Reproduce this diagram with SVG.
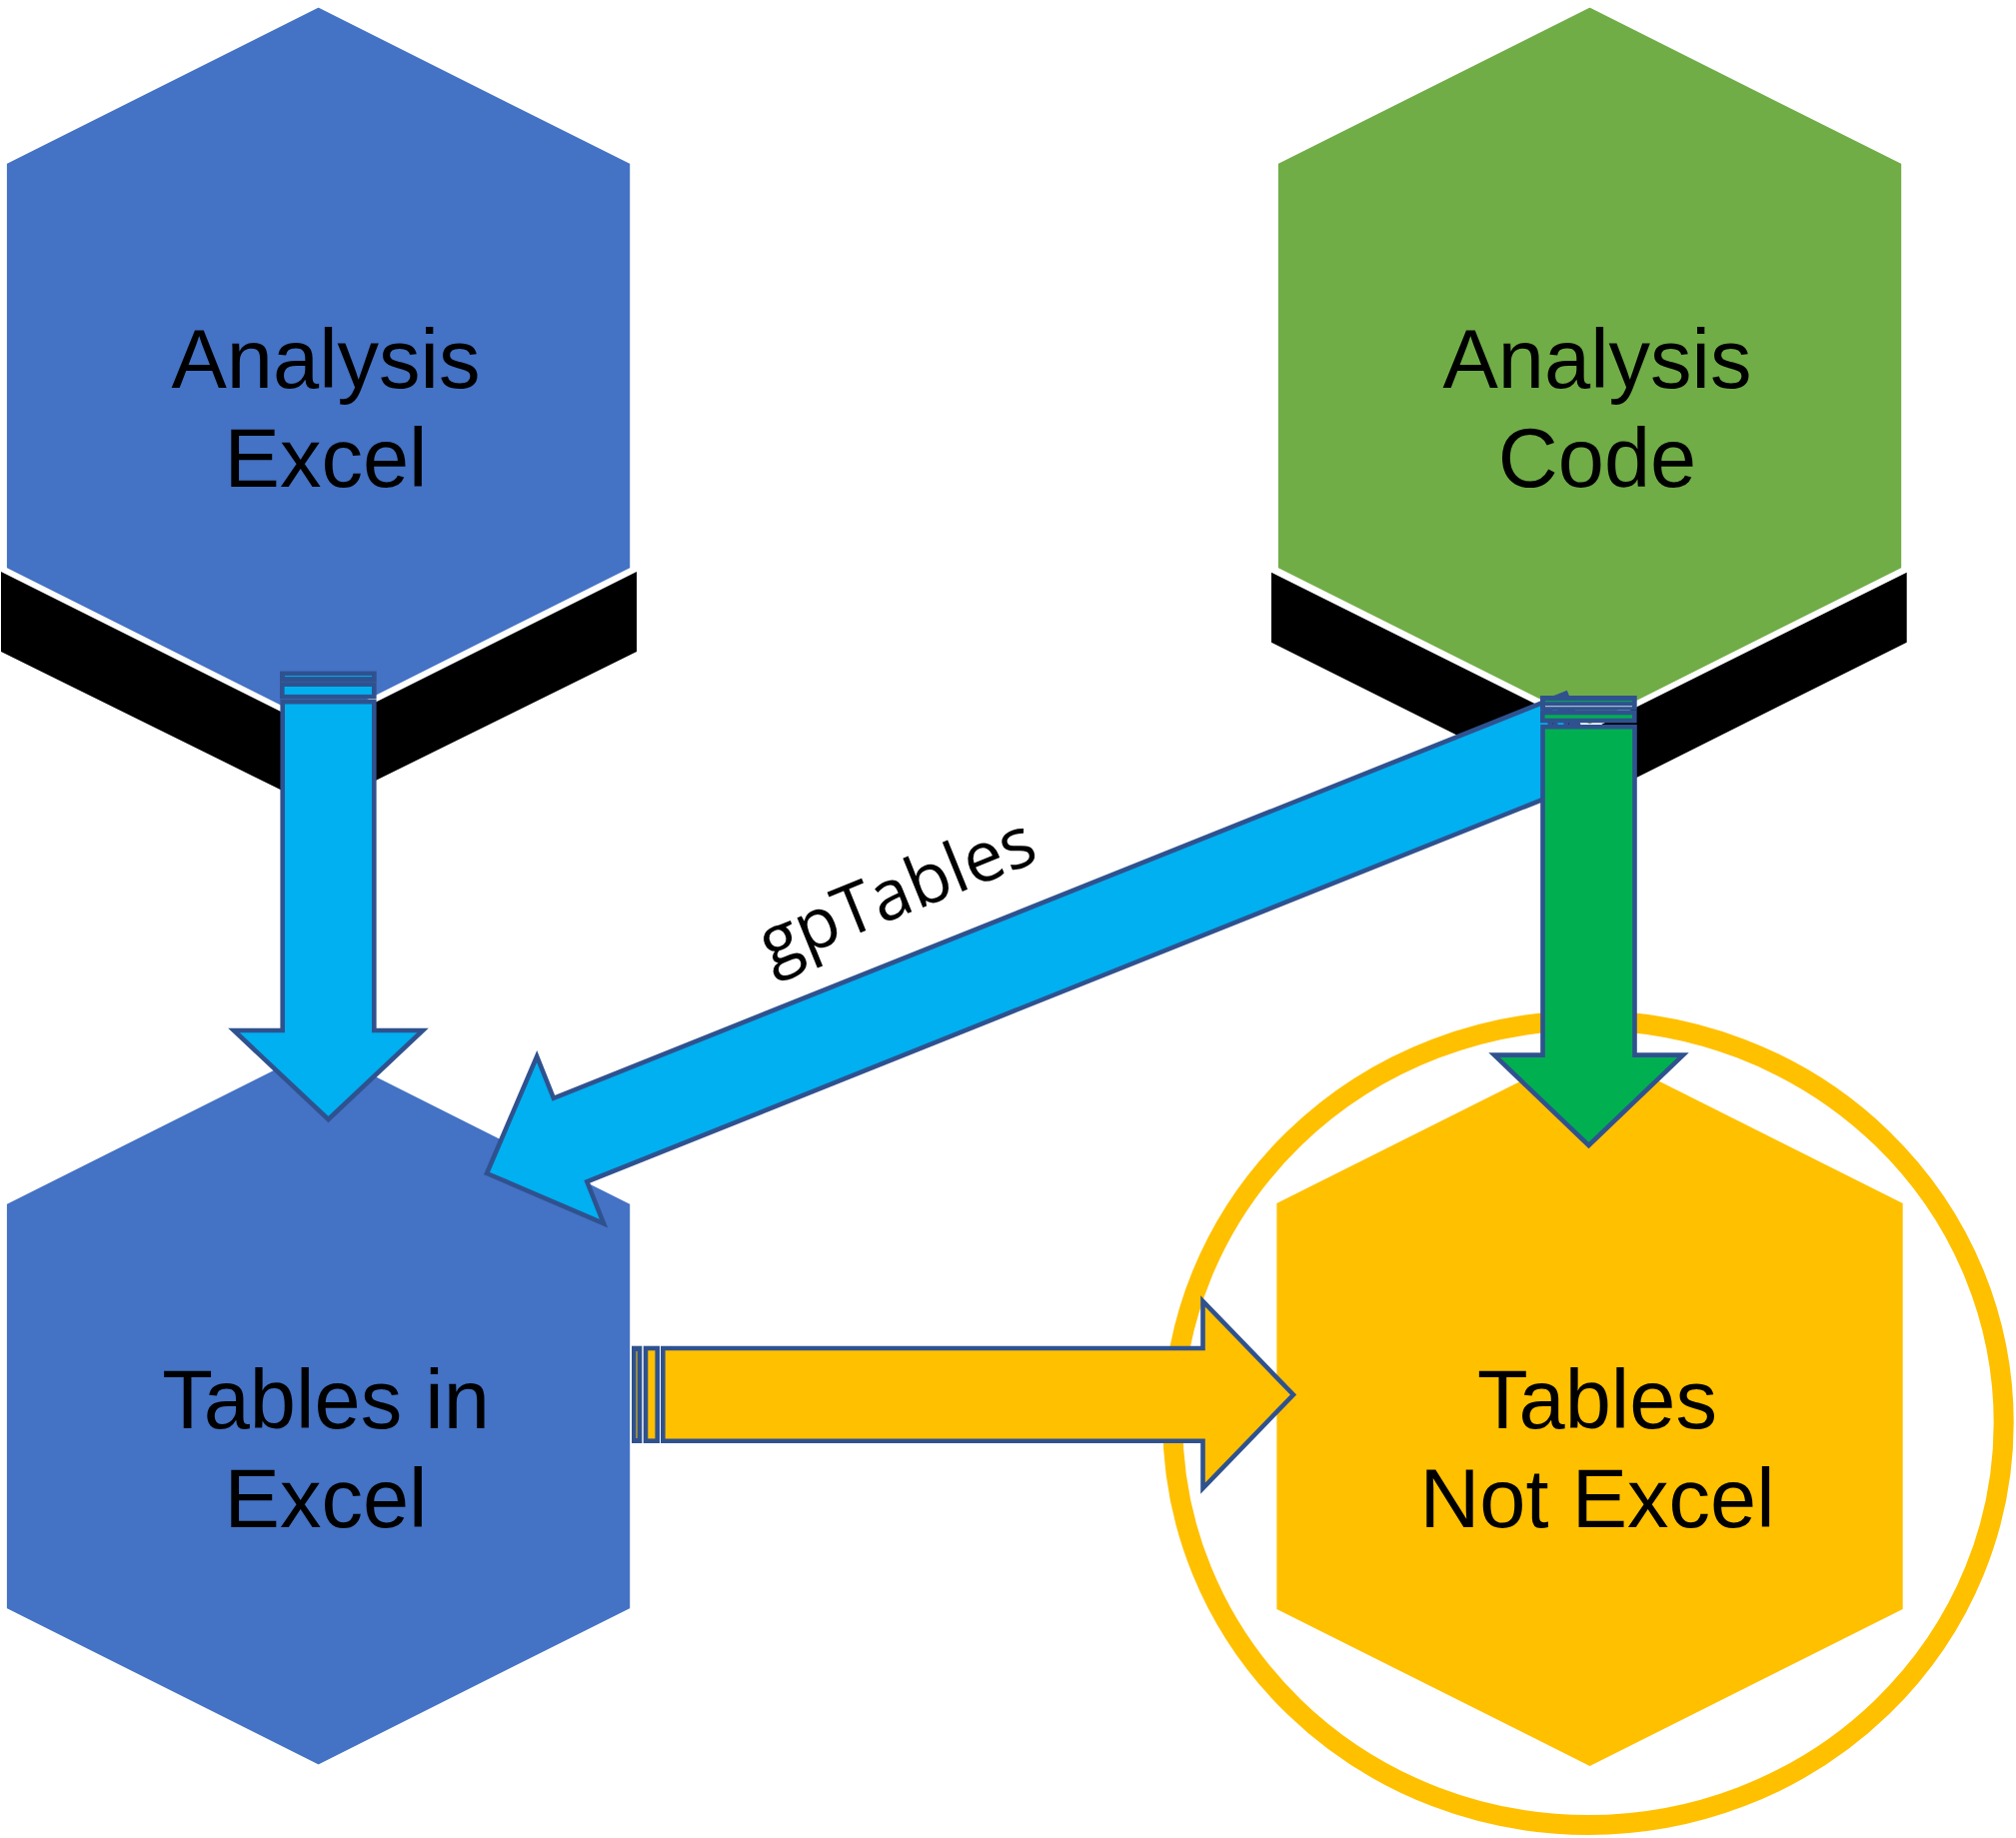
<svg xmlns="http://www.w3.org/2000/svg" width="2017" height="1839" viewBox="0 0 2017 1839">
<defs>
<style>
.lbl{font-family:"Liberation Sans",Arial,sans-serif;font-size:83px;fill:#000;text-anchor:middle}
.hexb{fill:#4472C4;stroke:#fff;stroke-width:3}
.hexg{fill:#70AD47;stroke:#fff;stroke-width:3}
.hexy{fill:#FFC000}
.ext{fill:#000}
.arr{stroke:#2F528F;stroke-width:4.6;stroke-linejoin:miter}
.band{fill:#2F528F}
</style>
</defs>
<rect x="0" y="0" width="2017" height="1839" fill="#fff"/>

<g id="node-analysis-excel">
<polygon class="ext" points="1,572 319,731 637,572 637,652 319,809 1,652"/>
<polygon class="hexb" points="318.6,6 631.7,163 631.7,569 318.6,726 5.4,569 5.4,163"/>
<text class="lbl" x="326" y="388">Analysis</text>
<text class="lbl" x="326" y="487">Excel</text>
</g>

<g id="node-analysis-code">
<polygon class="ext" points="1272,572.7 1590,731 1907.7,572.7 1907.7,642.7 1590,801.7 1272,642.7"/>
<polygon class="hexg" points="1590.6,6 1903.7,163 1903.7,569 1590.6,726 1277.4,569 1277.4,163"/>
<text class="lbl" x="1598" y="388">Analysis</text>
<text class="lbl" x="1598" y="487">Code</text>
</g>

<g id="node-tables-in-excel">
<polygon class="hexb" points="318.6,1047 631.7,1204 631.7,1610 318.6,1767 5.4,1610 5.4,1204" stroke="none"/>
<text class="lbl" x="326" y="1429">Tables in</text>
<text class="lbl" x="326" y="1528">Excel</text>
</g>

<g id="node-tables-not-excel">
<polygon class="hexy" points="1590.6,1047 1903.7,1204 1903.7,1610 1590.6,1767 1277.4,1610 1277.4,1204"/>
<ellipse cx="1589" cy="1423.5" rx="415.7" ry="402.5" fill="none" stroke="#FFC000" stroke-width="20"/>
<text class="lbl" x="1598" y="1429">Tables</text>
<text class="lbl" x="1598" y="1528">Not Excel</text>
</g>

<g id="connectors">
<g id="arrow-excel-down">
<rect class="band" x="280" y="671.6" width="96.7" height="10.8"/>
<line x1="285" y1="676.6" x2="372" y2="676.6" stroke="#00B0F0" stroke-width="1"/>
<rect class="arr" x="282.3" y="684.7" width="92" height="12.5" fill="#00B0F0"/>
<path class="arr" fill="#00B0F0" d="M282.7,702.3 L374.3,702.3 L374.3,1031 L423,1031 L328.5,1120 L234,1031 L282.7,1031 Z"/>
</g>

<g id="arrow-excel-right">
<rect class="band" x="632" y="1346.7" width="10.3" height="97.3"/>
<line x1="637" y1="1352" x2="637" y2="1439" stroke="#FFC000" stroke-width="1"/>
<rect class="arr" x="646" y="1349" width="11.7" height="92.7" fill="#FFC000"/>
<path class="arr" fill="#FFC000" d="M663.3,1349 L1203.5,1349 L1203.5,1302 L1294,1395.5 L1203.5,1489 L1203.5,1441.7 L663.3,1441.7 Z"/>
</g>

<g id="arrow-gptables" transform="translate(487,1174) rotate(158.2)">
<rect class="band" x="-1183" y="-47.3" width="10.8" height="94.6"/>
<rect class="arr" x="-1169.7" y="-45" width="10" height="90" fill="#00B0F0"/>
<path class="arr" fill="#00B0F0" d="M0,0 L-90,-90 L-90,-45 L-1155,-45 L-1155,45 L-90,45 L-90,90 Z"/>
</g>
<text x="906" y="915" transform="rotate(-22 906 915)" font-family="'Open Sans','Noto Sans',sans-serif" font-size="70" text-anchor="middle" fill="#000">gpTables</text>

<g id="arrow-code-down">
<rect class="band" x="1541" y="696" width="96.7" height="14.7"/>
<line x1="1546" y1="701.7" x2="1633" y2="701.7" stroke="#00B050" stroke-width="1"/>
<line x1="1546" y1="706.7" x2="1633" y2="706.7" stroke="#c8d0e0" stroke-width="1"/>
<rect class="arr" x="1543.3" y="713" width="92" height="8" fill="#00B050"/>
<path class="arr" fill="#00B050" d="M1543.5,727.3 L1635.5,727.3 L1635.5,1055.6 L1684,1055.6 L1589.5,1146 L1495,1055.6 L1543.5,1055.6 Z"/>
</g>
</g>
</svg>
